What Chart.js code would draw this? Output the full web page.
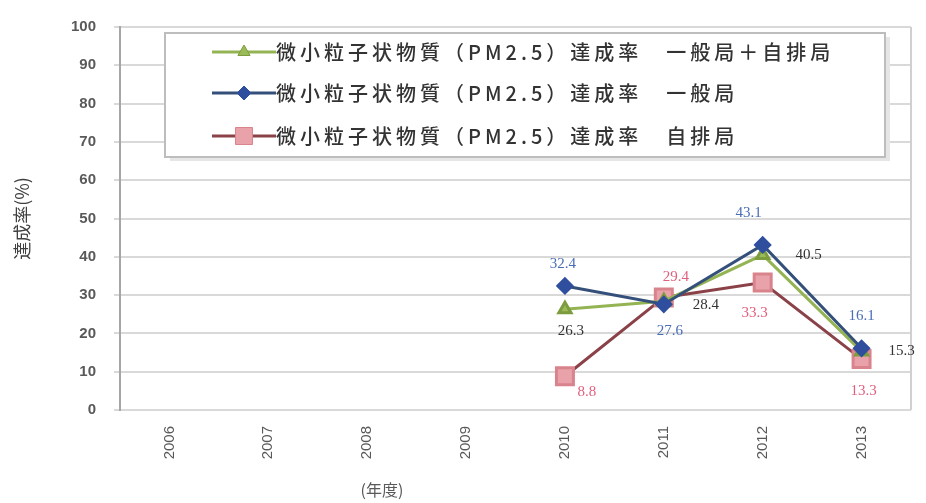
<!DOCTYPE html>
<html>
<head>
<meta charset="utf-8">
<script src="https://cdn.jsdelivr.net/npm/chart.js@4.4.0/dist/chart.umd.min.js"></script>
<style>
  body { margin: 0; background: #fff; }
</style>
</head>
<body>
<canvas id="myChart" width="926" height="503"></canvas>
<script>
// values
var years = ['2006', '2007', '2008', '2009', '2010', '2011', '2012', '2013'];
var rateAll = [null, null, null, null, 26.3, 28.4, 40.5, 15.3];
var rateGeneral = [null, null, null, null, 32.4, 27.6, 43.1, 16.1];
var rateRoadside = [null, null, null, null, 8.8, 29.4, 33.3, 13.3];
var seriesNames = [
  '微小粒子状物質（PM2.5）達成率　一般局＋自排局',
  '微小粒子状物質（PM2.5）達成率　一般局',
  '微小粒子状物質（PM2.5）達成率　自排局'
];

var ctx = document.getElementById('myChart').getContext('2d');

// number labels next to points (offsets in px from the point)
var pointLabels = {
  id: 'pointLabels',
  afterDatasetsDraw: function(chart) {
    var c = chart.ctx;
    chart.data.datasets.forEach(function(ds, i) {
      var meta = chart.getDatasetMeta(i);
      meta.data.forEach(function(pt, j) {
        var v = ds.data[j];
        if (v == null) return;
        var off = ds.labelOffsets[j] || [0, 0];
        c.save();
        c.font = '15px "Liberation Serif", serif';
        c.fillStyle = ds.labelColor;
        c.textAlign = 'center';
        c.textBaseline = 'middle';
        c.fillText(v.toFixed(1), pt.x + off[0], pt.y + off[1]);
        c.restore();
      });
    });
  }
};

// legend box inside the plot, right border, x title
var boxLegend = {
  id: 'boxLegend',
  beforeDatasetsDraw: function(chart) {
    var a = chart.chartArea, c = chart.ctx;
    c.save();
    c.strokeStyle = '#d0d0d0';
    c.lineWidth = 2;
    c.beginPath();
    c.moveTo(a.right, a.top);
    c.lineTo(a.right, a.bottom);
    c.stroke();
    c.restore();
  },
  afterDraw: function(chart) {
    var c = chart.ctx;
    var xs = chart.scales.x;
    c.save();
    // shadow + box
    c.fillStyle = '#e6e6e6';
    c.fillRect(170, 37, 720, 124);
    c.fillStyle = '#fff';
    c.fillRect(165, 33, 720, 124);
    c.strokeStyle = '#bdbdbd';
    c.lineWidth = 2;
    c.strokeRect(165, 33, 720, 124);

    var rows = [52, 93, 136];
    chart.data.datasets.forEach(function(ds, i) {
      var y = rows[i];
      c.strokeStyle = ds.borderColor;
      c.lineWidth = 3;
      c.beginPath();
      c.moveTo(212, y);
      c.lineTo(276, y);
      c.stroke();
      c.fillStyle = ds.pointBackgroundColor;
      c.strokeStyle = ds.pointBorderColor;
      c.lineWidth = 1;
      Chart.helpers.drawPoint(c, {
        pointStyle: ds.pointStyle,
        radius: ds.pointRadius,
        rotation: 0,
        borderWidth: 1
      }, 244, y);
      c.fillStyle = '#333333';
      c.font = '500 20px "Noto Sans CJK JP", sans-serif';
      c.letterSpacing = '4px';
      c.textBaseline = 'middle';
      c.textAlign = 'left';
      c.fillText(ds.label, 276, y);
    });

    c.letterSpacing = '0px';
    c.fillStyle = '#595959';
    c.font = '16px "Noto Sans CJK JP", sans-serif';
    c.textAlign = 'center';
    c.textBaseline = 'middle';
    c.fillText('(年度)', xs.getPixelForValue(2.15), 490);
    c.restore();
  }
};

var myChart = new Chart(ctx, {
  type: 'line',
  data: {
    labels: years,
    datasets: [
      {
        label: seriesNames[0],
        data: rateAll,
        order: 1,
        borderColor: '#94b454',
        borderWidth: 3,
        pointStyle: 'triangle',
        pointRadius: 7,
        pointBackgroundColor: '#9bbb59',
        pointBorderColor: '#7d9c3e',
        labelColor: '#333333',
        labelOffsets: [null, null, null, null, [6, 22], [42, 4], [46, 0], [40, 0]]
      },
      {
        label: seriesNames[1],
        data: rateGeneral,
        order: 0,
        borderColor: '#34507a',
        borderWidth: 3,
        pointStyle: 'rectRot',
        pointRadius: 7,
        pointBackgroundColor: '#2f4f9e',
        pointBorderColor: '#2f4f9e',
        labelColor: '#4a6db8',
        labelOffsets: [null, null, null, null, [-2, -22], [6, 27], [-14, -32], [0, -32]]
      },
      {
        label: seriesNames[2],
        data: rateRoadside,
        order: 2,
        borderColor: '#8a4248',
        borderWidth: 3,
        pointStyle: 'rect',
        pointRadius: 12,
        pointBackgroundColor: '#e9a2aa',
        pointBorderColor: '#d9838d',
        labelColor: '#e0607e',
        labelOffsets: [null, null, null, null, [22, 16], [12, -20], [-8, 31], [2, 32]]
      }
    ]
  },
  options: {
    responsive: false,
    animation: false,
    layout: { padding: { top: 22, right: 10, left: 0, bottom: 0 } },
    elements: { line: { tension: 0 } },
    plugins: {
      legend: { display: false },
      tooltip: { enabled: false }
    },
    scales: {
      x: {
        offset: true,
        afterFit: function(s) { s.height = 93; },
        grid: { display: false },
        border: { display: false },
        ticks: {
          minRotation: 90,
          maxRotation: 90,
          padding: 8,
          color: '#595959',
          font: { size: 15, family: '"Liberation Sans", sans-serif' }
        }
      },
      y: {
        min: 0,
        max: 100,
        afterFit: function(s) { s.width = 120; },
        grid: { color: '#d9d9d9', lineWidth: 2, tickLength: 6 },
        border: { color: '#a6a6a6', width: 2 },
        ticks: {
          stepSize: 10,
          padding: 18,
          color: '#595959',
          font: { size: 15, weight: 'bold', family: '"Liberation Sans", sans-serif' }
        },
        title: {
          display: true,
          text: '達成率(%)',
          color: '#404040',
          padding: { top: 11 },
          font: { size: 18, family: '"Noto Sans CJK JP", sans-serif' }
        }
      }
    }
  },
  plugins: [pointLabels, boxLegend]
});
</script>
</body>
</html>
